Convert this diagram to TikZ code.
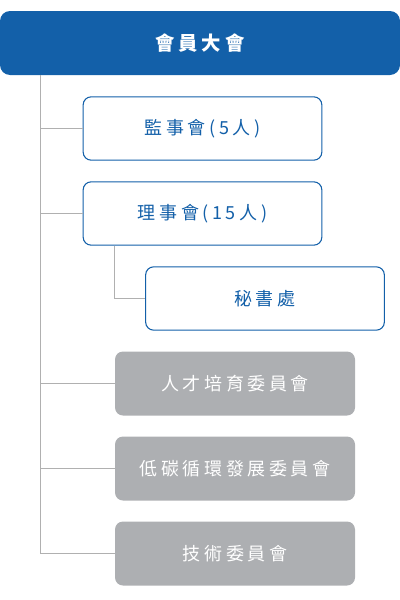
\documentclass[tikz,border=0pt]{standalone}
\usepackage{fontspec}
\usepackage{tikz}
\usetikzlibrary{positioning}
\usetikzlibrary{calc}
\newfontfamily\cjk[LetterSpace=20]{Noto Sans CJK TC}
\definecolor{orgblue}{RGB}{19,96,169}
\definecolor{orggrey}{RGB}{173,175,178}
\definecolor{orgline}{RGB}{176,176,176}

\begin{document}
\begin{tikzpicture}[x=0.75pt,y=0.75pt,yscale=-1,xscale=1,
  topbox/.style={fill=orgblue,rounded corners=7.5pt,minimum width=300pt,minimum height=48pt,inner sep=0pt,text=white,font=\cjk\bfseries\fontsize{14.5}{17}\selectfont},
  bluebox/.style={draw=orgblue,line width=0.8pt,fill=white,rounded corners=6pt,minimum width=179pt,minimum height=47.5pt,inner sep=0pt,text=orgblue,font=\cjk\fontsize{13.5}{16}\selectfont},
  greybox/.style={fill=orggrey,rounded corners=6pt,minimum width=180pt,minimum height=48pt,inner sep=0pt,text=white,font=\cjk\fontsize{13.5}{16}\selectfont},
  branch/.style={draw=orgline,line width=0.75pt}]
\useasboundingbox (0,0) rectangle (400,600);

%Shape: top box
\node [topbox] (dahui) at (200,43) {會員大會};
%Shape: blue boxes
\node [bluebox] (jianshi) at (202.5,128.5) {監事會(5人)};
\node [bluebox] (lishi) at (202.5,213.5) {理事會(15人)};
\node [bluebox] (mishu) at (265,298.5) {秘書處};
%Shape: grey boxes
\node [greybox] (rencai) at (235,383.5) {人才培育委員會};
\node [greybox] (ditan) at (235,468.5) {低碳循環發展委員會};
\node [greybox] (jishu) at (235,553.5) {技術委員會};

%Straight Lines
\coordinate (trunk) at (dahui.south -| 40,0);
\coordinate (sub) at (lishi.south -| 114,0);
\draw [branch] (trunk) |- (jianshi.west);
\draw [branch] (trunk) |- (lishi.west);
\draw [branch] (trunk) |- (rencai.west);
\draw [branch] (trunk) |- (ditan.west);
\draw [branch] (trunk) |- (jishu.west);
\draw [branch] (sub) |- (mishu.west);

\end{tikzpicture}
\end{document}
